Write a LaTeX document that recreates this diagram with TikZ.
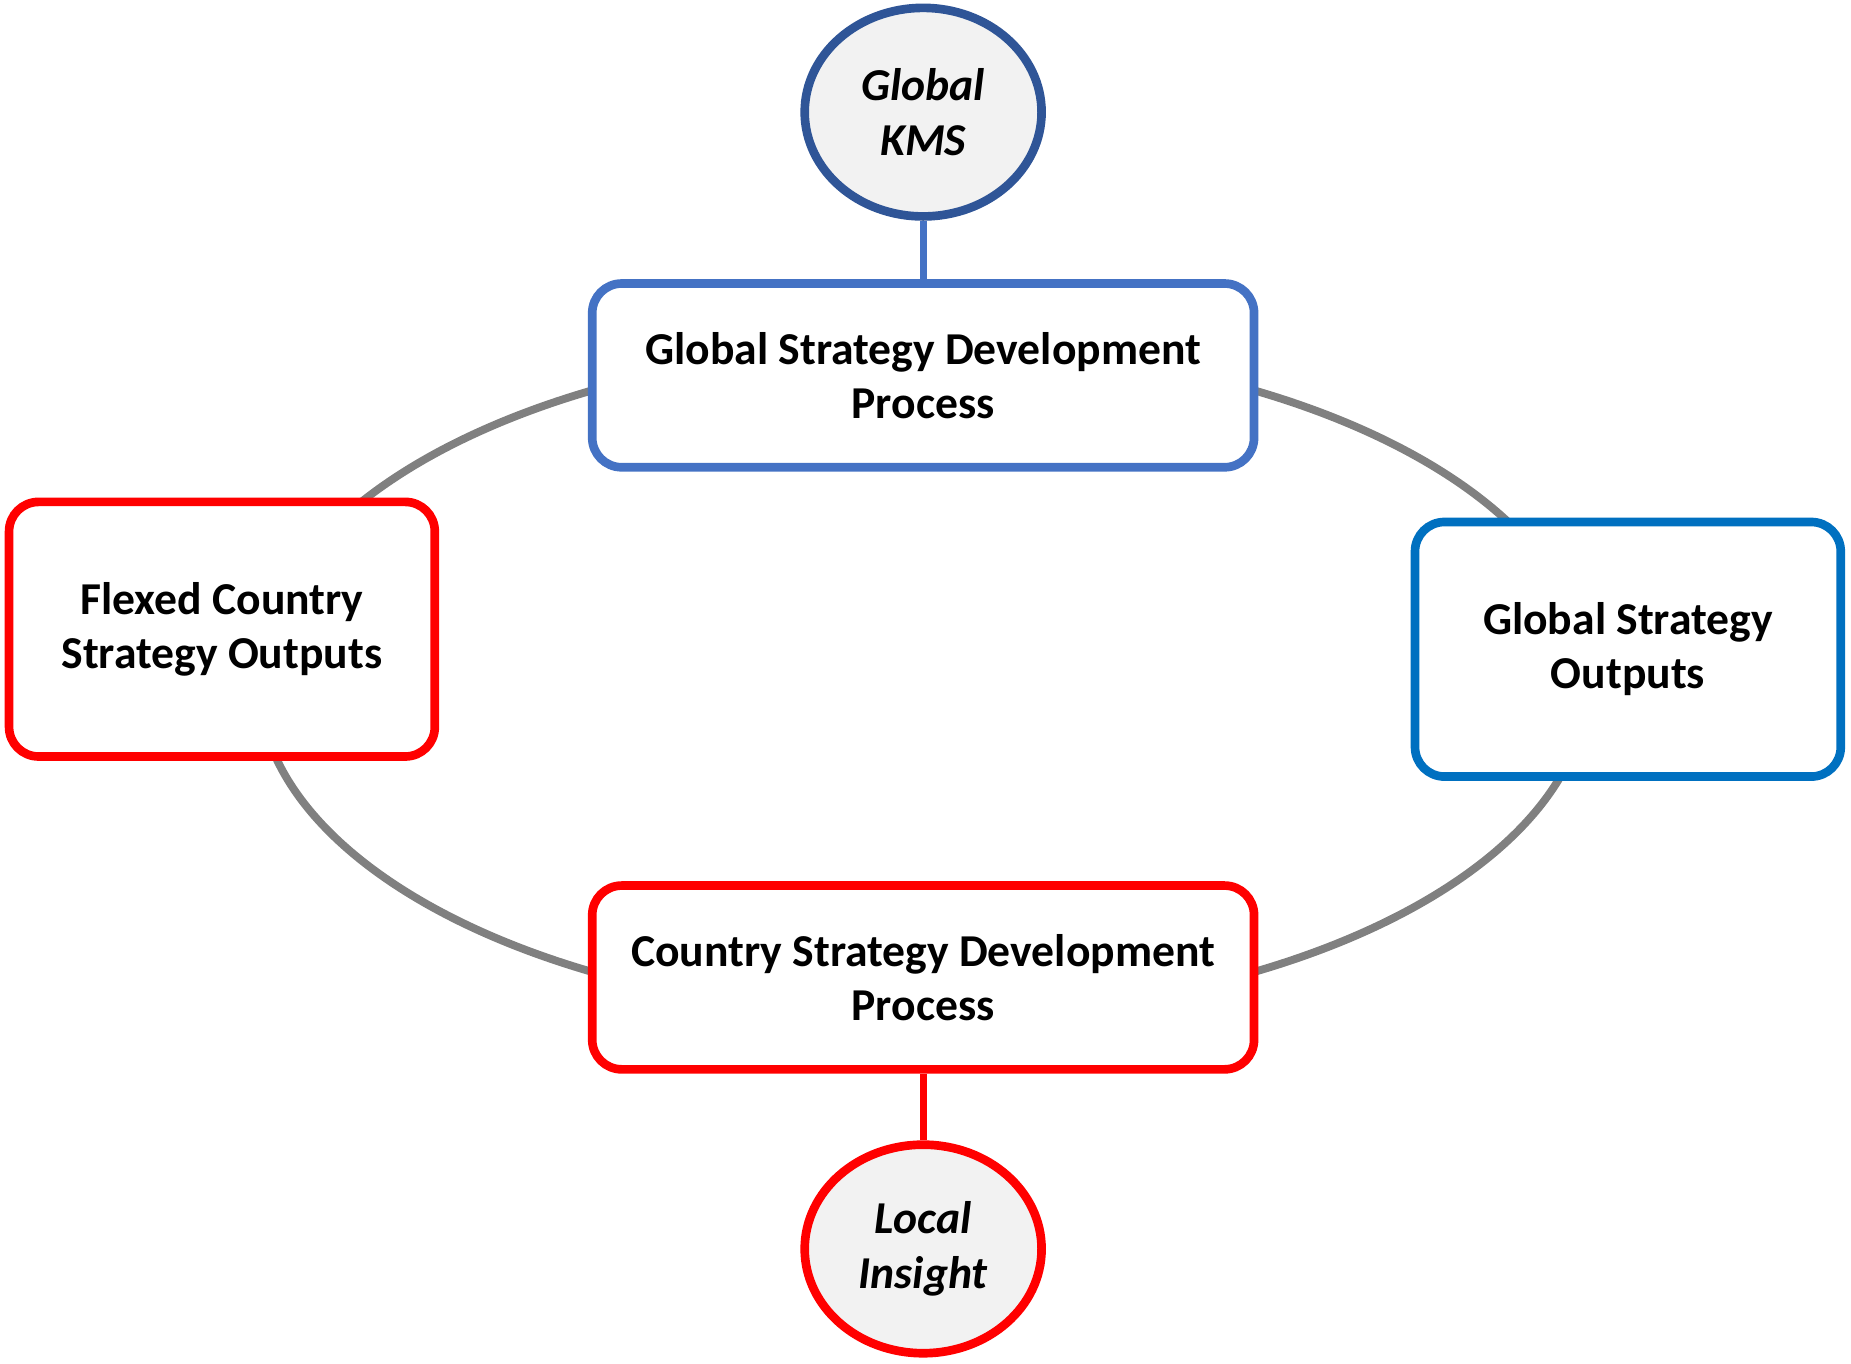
\documentclass[tikz,border=0pt]{standalone}
\usepackage{fontspec}
\setmainfont{Carlito}
\usetikzlibrary{%
    backgrounds,
    positioning,
    shapes.geometric
}
\definecolor{kmsblue}{HTML}{2F5597}
\definecolor{procblue}{HTML}{4472C4}
\definecolor{outblue}{HTML}{0070C0}
\definecolor{ringgray}{HTML}{808080}
\definecolor{softgray}{HTML}{F2F2F2}
\tikzset{box/.style = {draw, line width=2.2pt, rounded corners=7.5pt, fill=white,
    align=center, font=\fontsize{11.6}{13.8}\selectfont\bfseries}}
\tikzset{wide/.style = {box, minimum width=168.2pt, minimum height=46.7pt}}
\tikzset{tall/.style = {box, minimum width=108.2pt, minimum height=64.7pt}}
\tikzset{source/.style = {ellipse, draw, line width=2.2pt, fill=softgray, inner sep=0pt,
    minimum width=60.2pt, minimum height=53pt, align=center,
    font=\fontsize{11.6}{13.8}\selectfont\bfseries\itshape}}
\tikzset{link/.style = {line width=1.8pt}}
\tikzset{ring/.style = {line width=2pt, ringgray}}

\begin{document}
\begin{tikzpicture}[x=0.3pt, y=-0.3pt]
    \useasboundingbox (0,0) rectangle (1568,1155);
    \coordinate (ctr) at (782,577);

    \node[wide, draw=procblue]    (gsdp) at (782,318) {Global Strategy Development\\Process};
    \node[wide, draw=red]         (csdp) at (782,828) {Country Strategy Development\\Process};
    \node[tall, draw=red]         (fcso) at (188,533) {Flexed Country\\Strategy Outputs};
    \node[tall, draw=outblue]     (gso)  at (1379,550) {Global Strategy\\Outputs};
    \node[source, draw=kmsblue]   (kms)  at (782,95) {Global\\KMS};
    \node[source, draw=red]       (loc)  at (782,1058) {Local\\Insight};

    \begin{scope}[on background layer]
        \draw[ring] (ctr) ellipse [x radius=168.9pt, y radius=85.2pt];
    \end{scope}
    \draw[link, procblue] (kms) -- (gsdp);
    \draw[link, red] (csdp) -- (loc);
\end{tikzpicture}
\end{document}
